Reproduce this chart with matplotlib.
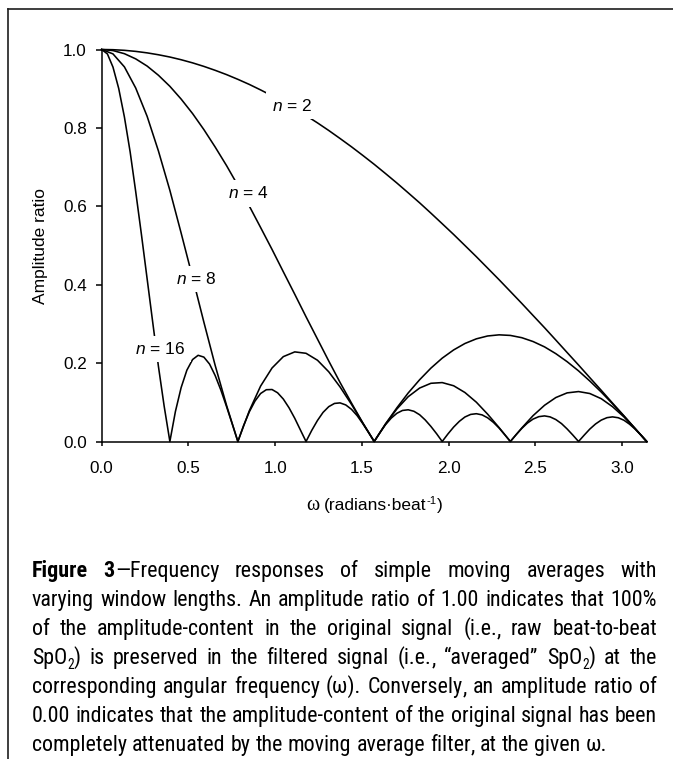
import os
import re
import matplotlib
matplotlib.use("Agg")
import matplotlib.pyplot as plt
from matplotlib import font_manager
from matplotlib.font_manager import FontProperties
from matplotlib.lines import Line2D

# ---------------- data ----------------
omega_coarse = [0.000, 0.065, 0.131, 0.196, 0.262, 0.327, 0.393, 0.458, 0.524, 0.589,
                0.654, 0.720, 0.785, 0.851, 0.916, 0.982, 1.047, 1.113, 1.178, 1.244,
                1.309, 1.374, 1.440, 1.505, 1.571, 1.636, 1.702, 1.767, 1.833, 1.898,
                1.963, 2.029, 2.094, 2.160, 2.225, 2.291, 2.356, 2.422, 2.487, 2.553,
                2.618, 2.683, 2.749, 2.814, 2.880, 2.945, 3.011, 3.076, 3.142]

amp_n2 = [1.0000, 0.9995, 0.9979, 0.9952, 0.9914, 0.9866, 0.9808, 0.9739, 0.9659, 0.9569,
          0.9469, 0.9359, 0.9239, 0.9109, 0.8969, 0.8819, 0.8660, 0.8492, 0.8315, 0.8128,
          0.7934, 0.7730, 0.7518, 0.7299, 0.7071, 0.6836, 0.6593, 0.6344, 0.6088, 0.5825,
          0.5556, 0.5281, 0.5000, 0.4714, 0.4423, 0.4127, 0.3827, 0.3522, 0.3214, 0.2903,
          0.2588, 0.2271, 0.1951, 0.1629, 0.1305, 0.0980, 0.0654, 0.0327, 0.0000]

amp_n4 = [1.0000, 0.9973, 0.9893, 0.9761, 0.9577, 0.9343, 0.9061, 0.8735, 0.8365, 0.7957,
          0.7513, 0.7036, 0.6533, 0.6006, 0.5460, 0.4900, 0.4330, 0.3756, 0.3182, 0.2613,
          0.2053, 0.1508, 0.0981, 0.0477, 0.0000, 0.0447, 0.0861, 0.1238, 0.1576, 0.1872,
          0.2126, 0.2336, 0.2500, 0.2619, 0.2692, 0.2721, 0.2706, 0.2648, 0.2550, 0.2414,
          0.2241, 0.2037, 0.1802, 0.1543, 0.1261, 0.0961, 0.0648, 0.0326, 0.0000]

amp_n8 = [1.0000, 0.9888, 0.9556, 0.9018, 0.8294, 0.7412, 0.6407, 0.5317, 0.4183, 0.3045,
          0.1944, 0.0918, 0.0000, 0.0784, 0.1413, 0.1875, 0.2165, 0.2286, 0.2250, 0.2073,
          0.1778, 0.1393, 0.0948, 0.0473, 0.0000, 0.0443, 0.0831, 0.1143, 0.1364, 0.1485,
          0.1503, 0.1422, 0.1250, 0.1002, 0.0697, 0.0355, 0.0000, 0.0346, 0.0660, 0.0924,
          0.1121, 0.1240, 0.1274, 0.1224, 0.1092, 0.0888, 0.0626, 0.0324, 0.0000]

omega_fine = [0.000, 0.033, 0.065, 0.098, 0.131, 0.164, 0.196, 0.229, 0.262, 0.295,
              0.327, 0.360, 0.393, 0.425, 0.458, 0.491, 0.524, 0.556, 0.589, 0.622,
              0.654, 0.687, 0.720, 0.753, 0.785, 0.818, 0.851, 0.884, 0.916, 0.949,
              0.982, 1.014, 1.047, 1.080, 1.113, 1.145, 1.178, 1.211, 1.244, 1.276,
              1.309, 1.342, 1.374, 1.407, 1.440, 1.473, 1.505, 1.538, 1.571, 1.604,
              1.636, 1.669, 1.702, 1.734, 1.767, 1.800, 1.833, 1.865, 1.898, 1.931,
              1.963, 1.996, 2.029, 2.062, 2.094, 2.127, 2.160, 2.193, 2.225, 2.258,
              2.291, 2.323, 2.356, 2.389, 2.422, 2.454, 2.487, 2.520, 2.553, 2.585,
              2.618, 2.651, 2.683, 2.716, 2.749, 2.782, 2.814, 2.847, 2.880, 2.913,
              2.945, 2.978, 3.011, 3.043, 3.076, 3.109, 3.142]

amp_n16 = [1.0000, 0.9886, 0.9551, 0.9007, 0.8276, 0.7387, 0.6376, 0.5282, 0.4147, 0.3012,
           0.1918, 0.0904, 0.0000, 0.0766, 0.1376, 0.1819, 0.2091, 0.2199, 0.2153, 0.1974,
           0.1684, 0.1312, 0.0887, 0.0440, 0.0000, 0.0407, 0.0757, 0.1034, 0.1224, 0.1321,
           0.1326, 0.1243, 0.1083, 0.0860, 0.0592, 0.0299, 0.0000, 0.0284, 0.0537, 0.0742,
           0.0889, 0.0971, 0.0985, 0.0933, 0.0821, 0.0658, 0.0457, 0.0233, 0.0000, 0.0225,
           0.0428, 0.0596, 0.0720, 0.0792, 0.0809, 0.0771, 0.0682, 0.0550, 0.0384, 0.0197,
           0.0000, 0.0192, 0.0368, 0.0515, 0.0625, 0.0691, 0.0709, 0.0679, 0.0604, 0.0489,
           0.0343, 0.0176, 0.0000, 0.0174, 0.0334, 0.0469, 0.0572, 0.0634, 0.0653, 0.0628,
           0.0560, 0.0456, 0.0321, 0.0165, 0.0000, 0.0164, 0.0317, 0.0447, 0.0546, 0.0608,
           0.0628, 0.0606, 0.0542, 0.0442, 0.0313, 0.0162, 0.0000]

curve_labels = ["$n$ = 2", "$n$ = 4", "$n$ = 8", "$n$ = 16"]
x_ticks = [0.0, 0.5, 1.0, 1.5, 2.0, 2.5, 3.0]
x_tick_labels = ["0.0", "0.5", "1.0", "1.5", "2.0", "2.5", "3.0"]
y_ticks = [0.0, 0.2, 0.4, 0.6, 0.8, 1.0]
y_tick_labels = ["0.0", "0.2", "0.4", "0.6", "0.8", "1.0"]
y_label = "Amplitude ratio"

caption_lines = [
    "**Figure** **3**\u2014Frequency responses of simple moving averages with",
    "varying window lengths. An amplitude ratio of 1.00 indicates that 100%",
    "of the amplitude-content in the original signal (i.e., raw beat-to-beat",
    "SpO_2) is preserved in the filtered signal (i.e., \u201caveraged\u201d SpO_2) at the",
    "corresponding angular frequency (\u03c9). Conversely, an amplitude ratio of",
    "0.00 indicates that the amplitude-content of the original signal has been",
    "completely attenuated by the moving average filter, at the given \u03c9.",
]

# ---------------- styling / layout ----------------
W, H = 673, 759
plt.rcParams["font.family"] = ["Liberation Sans", "DejaVu Sans"]
plt.rcParams["mathtext.fontset"] = "custom"
plt.rcParams["mathtext.rm"] = "Liberation Sans"
plt.rcParams["mathtext.it"] = "Liberation Sans:italic"
plt.rcParams["mathtext.bf"] = "Liberation Sans:bold"

STRETCH = {"ultra-condensed": 100, "extra-condensed": 200, "condensed": 300,
           "semi-condensed": 400, "normal": 500, "semi-expanded": 600,
           "expanded": 700, "extra-expanded": 800, "ultra-expanded": 900}
WEIGHT = {"ultralight": 100, "light": 300, "normal": 400, "regular": 400, "book": 400,
          "medium": 500, "roman": 400, "semibold": 600, "demibold": 600, "demi": 600,
          "bold": 700, "heavy": 800, "extra bold": 800, "black": 900}


def _num(v, table, default):
    if isinstance(v, (int, float)):
        return v
    return table.get(str(v).lower(), default)


def find_narrow_font():
    """Look for an installed narrow / condensed sans family (regular + bold)."""
    entries = font_manager.fontManager.ttflist
    prefs = ["Liberation Sans Narrow", "Arial Narrow", "Roboto Condensed",
             "Open Sans Condensed", "Noto Sans", "Roboto", "Open Sans",
             "DejaVu Sans", "DejaVu Sans Condensed", "Lato", "Inter"]

    def is_cond(f):
        low = (f.name + " " + os.path.basename(f.fname)).lower()
        if "mono" in low:
            return False
        if "narrow" in low or "condensed" in low:
            return True
        return _num(f.stretch, STRETCH, 500) < 500

    for fam in prefs:
        cands = [f for f in entries if f.name == fam and is_cond(f)
                 and f.style == "normal"]
        if not cands:
            continue
        best_st = min({_num(f.stretch, STRETCH, 300) for f in cands},
                      key=lambda s: abs(s - 300))
        cands = [f for f in cands if _num(f.stretch, STRETCH, 300) == best_st]
        reg = min(cands, key=lambda f: abs(_num(f.weight, WEIGHT, 400) - 400))
        bold = min(cands, key=lambda f: abs(_num(f.weight, WEIGHT, 400) - 700))
        if abs(_num(reg.weight, WEIGHT, 400) - 400) > 100:
            continue
        return reg.fname, bold.fname
    return None


narrow = find_narrow_font()

fig = plt.figure(figsize=(W / 100, H / 100), dpi=100)
fig.patch.set_facecolor("white")

ax_left, ax_right, ax_top, ax_bottom = 101.7, 646.7, 49.5, 441.5
ax = fig.add_axes([ax_left / W, 1 - ax_bottom / H, (ax_right - ax_left) / W,
                   (ax_bottom - ax_top) / H])

lw = 1.15
ax.plot(omega_coarse, amp_n2, color="black", lw=lw, clip_on=False, zorder=3)
ax.plot(omega_coarse, amp_n4, color="black", lw=lw, clip_on=False, zorder=3)
ax.plot(omega_coarse, amp_n8, color="black", lw=lw, clip_on=False, zorder=3)
ax.plot(omega_fine, amp_n16, color="black", lw=lw, clip_on=False, zorder=3)

ax.set_xlim(0, omega_coarse[-1])
ax.set_ylim(0, 1)
ax.set_xticks(x_ticks)
ax.set_xticklabels(x_tick_labels)
ax.set_yticks(y_ticks)
ax.set_yticklabels(y_tick_labels)
for s in ["top", "right"]:
    ax.spines[s].set_visible(False)
for s in ["left", "bottom"]:
    ax.spines[s].set_linewidth(1.1)
ax.tick_params(axis="y", direction="out", length=4.3, width=1.1, pad=6.3,
               labelsize=12.3, colors="black")
ax.tick_params(axis="x", direction="out", length=3.2, width=1.1, pad=10.5,
               labelsize=12.3, colors="black")

label_pos = [(1.095, 0.857), (0.843, 0.633), (0.5435, 0.414), (0.338, 0.2355)]
for txt, (lx, ly) in zip(curve_labels, label_pos):
    ax.text(lx, ly, txt, ha="center", va="center", fontsize=12.5, zorder=6,
            bbox=dict(boxstyle="square,pad=0.3", fc="white", ec="none"))

fig.text(40 / W, 1 - 245.5 / H, y_label, rotation=90, ha="center", va="center",
         fontsize=12.5)

renderer = fig.canvas.get_renderer()


def text_width(s, fp):
    t = fig.text(0, 0, s, fontproperties=fp)
    w = t.get_window_extent(renderer=renderer).width
    t.remove()
    return w


def put(x, y, s, fp):
    # y is given in pixels from the top; snap to whole pixels for a steady baseline
    y = round(y)
    fig.text(x / W, (H - y) / H, s, fontproperties=fp, ha="left", va="baseline")


# x label composed of pieces: omega (serif), text, superscript
fp_omega = FontProperties(family=["Liberation Serif", "DejaVu Serif"], size=14.5)
fp_lab = FontProperties(family=["Liberation Sans", "DejaVu Sans"], size=12.5)
fp_sup = FontProperties(family=["Liberation Sans", "DejaVu Sans"], size=8)
xl_pieces = [("\u03c9", fp_omega, 0), (" ", None, 0), ("(radians\u00b7beat", fp_lab, 0),
             ("-1", fp_sup, -6), (")", fp_lab, 0)]
sp_lab = text_width("n n", fp_lab) - text_width("nn", fp_lab)
widths = [sp_lab if p[1] is None else text_width(p[0], p[1]) for p in xl_pieces]
x0 = (ax_left + ax_right) / 2 - sum(widths) / 2
base = 510
for (s, fp, dy), w in zip(xl_pieces, widths):
    if fp is not None:
        put(x0, base + dy, s, fp)
    x0 += w

# caption, justified
cap_left, cap_right = 32, 657
last_natural = 576


def parse_word(word):
    out = []
    for m in re.finditer(r"\*\*(.+?)\*\*|_(\d)|([^*_]+)", word):
        if m.group(1):
            out.append((m.group(1), "b"))
        elif m.group(2):
            out.append((m.group(2), "s"))
        else:
            s = m.group(3)
            # trailing comma drawn as its own run (keeps baselines steady)
            if len(s) > 1 and s.endswith(","):
                out.append((s[:-1], "r"))
                out.append((",", "r"))
            else:
                out.append((s, "r"))
    return out


def fonts(size):
    if narrow is not None:
        reg, bold = narrow
        fb = FontProperties(fname=bold, size=size)
        if bold == reg:
            fb = FontProperties(fname=reg, size=size, weight="bold")
        return {"r": FontProperties(fname=reg, size=size), "b": fb,
                "s": FontProperties(fname=reg, size=size * 0.62)}
    fam = ["Liberation Sans", "DejaVu Sans"]
    return {"r": FontProperties(family=fam, size=size),
            "b": FontProperties(family=fam, size=size, weight="bold"),
            "s": FontProperties(family=fam, size=size * 0.62)}


def word_width(word, fps):
    return sum(text_width(s, fps[k]) for s, k in word)


def line_words(line):
    return [parse_word(w) for w in line.split(" ")]


size0 = 16.0
fps0 = fonts(size0)
sp0 = text_width("n n", fps0["r"]) - text_width("nn", fps0["r"])
lw_words = line_words(caption_lines[-1])
nat0 = sum(word_width(w, fps0) for w in lw_words) + sp0 * (len(lw_words) - 1)
cap_size = min(size0 * last_natural / nat0, 17.5)
fps = fonts(cap_size)
space = text_width("n n", fps["r"]) - text_width("nn", fps["r"])

base0, step = 577, 29.0
for i, line in enumerate(caption_lines):
    words = line_words(line)
    ww = [word_width(w, fps) for w in words]
    if i < len(caption_lines) - 1:
        gap = (cap_right - cap_left - sum(ww)) / (len(words) - 1)
        gap = max(gap, space * 0.6)
    else:
        gap = space
    y = round(base0 + i * step)
    x = cap_left
    for w, wwid in zip(words, ww):
        xx = x
        for s, k in w:
            dy = round(0.22 * cap_size * 100 / 72) if k == "s" else 0
            put(xx, y + dy, s, fps[k])
            xx += text_width(s, fps[k])
        x += wwid + gap

# frame lines (top and left)
fig.add_artist(Line2D([7.5 / W, 1], [1 - 8.5 / H, 1 - 8.5 / H], transform=fig.transFigure,
                      color="#1e1e1e", lw=1.2))
fig.add_artist(Line2D([7.5 / W, 7.5 / W], [1 - 8.5 / H, 0], transform=fig.transFigure,
                      color="#1e1e1e", lw=1.2))

fig.savefig("out.png", dpi=100, facecolor="white")
